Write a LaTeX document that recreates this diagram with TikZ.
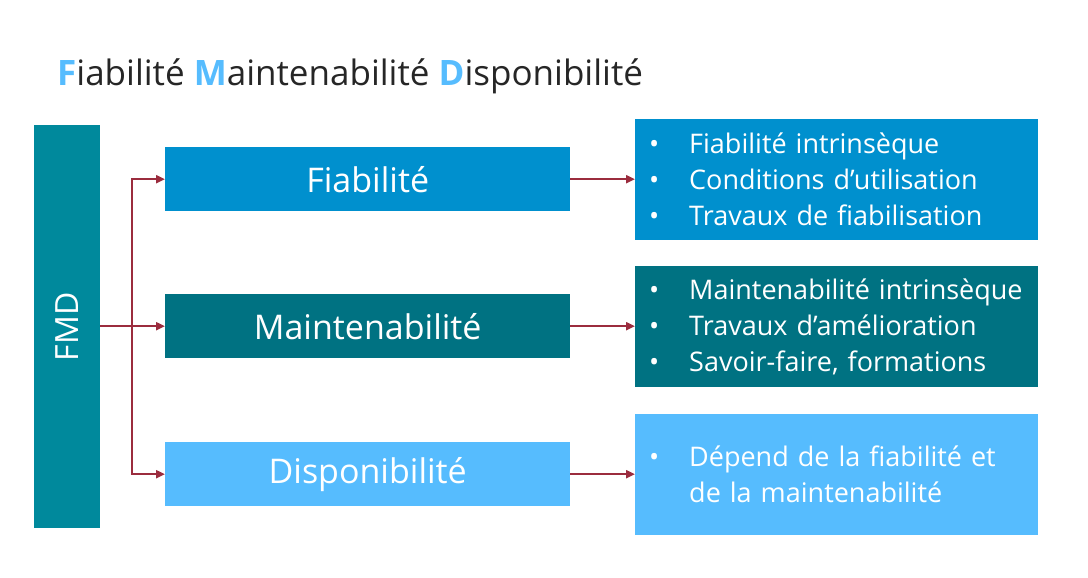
\documentclass[tikz,border=0pt]{standalone}
\usepackage{fontspec}
\setmainfont{Open Sans}
\usepackage{tikz}
\usetikzlibrary{arrows.meta,positioning,calc}

\definecolor{fmdteal}{HTML}{00899C}
\definecolor{fiabblue}{HTML}{0090CE}
\definecolor{mainteal}{HTML}{007282}
\definecolor{dispblue}{HTML}{56BCFE}
\definecolor{arrowred}{HTML}{9B2C3E}
\definecolor{titlegray}{HTML}{262626}

\newcommand{\bul}{\makebox[40pt][l]{\textbullet}}
\newcommand{\nobul}{\makebox[40pt][l]{}}
\newcommand{\initial}[1]{\textcolor{dispblue}{\textbf{#1}}}

\begin{document}
\begin{tikzpicture}[x=1pt,y=-1pt,
  box/.style={rectangle,anchor=north west,inner sep=0pt,minimum width=405pt,minimum height=64pt,
    text=white,font=\fontsize{34}{40}\selectfont},
  listbox/.style={rectangle,anchor=north west,inner ysep=0pt,inner xsep=14pt,minimum width=403pt,minimum height=121pt,
    text=white,font=\fontsize{27}{36}\selectfont,align=left,text width=375pt},
  conn/.style={draw=arrowred,line width=2pt,-{Triangle[length=9pt,width=8pt]}}]
  \useasboundingbox (0,0) rectangle (1088,578);
  % title
  \node[anchor=base west,inner sep=0pt,text=titlegray,font=\fontsize{35}{40}\selectfont] (title) at (57,85)
    {\initial{F}iabilité \initial{M}aintenabilité \initial{D}isponibilité};
  % left bar
  \node[rectangle,fill=fmdteal,anchor=north west,inner sep=0pt,minimum width=66pt,minimum height=403pt] (fmd) at (34,125) {};
  \node[rotate=90,text=white,font=\fontsize{32}{38}\selectfont] (fmdlab) at (fmd.center) {FMD};
  % middle boxes
  \node[box,fill=fiabblue] (fiab) at (165,147) {Fiabilité};
  \node[box,fill=mainteal] (maint) at (165,294) {Maintenabilité};
  \node[box,fill=dispblue] (disp) at (165,442) {Disponibilité};
  % right boxes
  \node[listbox,fill=fiabblue] (fiabl) at (635,119)
    {\bul Fiabilité intrinsèque\\ \bul Conditions d’utilisation\\ \bul Travaux de fiabilisation};
  \node[listbox,fill=mainteal] (maintl) at (635,266)
    {\bul Maintenabilité intrinsèque\\ \bul Travaux d’amélioration\\ \bul Savoir-faire, formations};
  \node[listbox,fill=dispblue] (displ) at (635,414)
    {\bul Dépend de la fiabilité et\\ \nobul de la maintenabilité};
  % connectors
  \coordinate (split) at (132,326);
  \draw[conn] (fmd.east |- maint.west) -- (maint.west);
  \draw[conn] (split) |- (fiab.west);
  \draw[conn] (split) |- (disp.west);
  \foreach \a/\b in {fiab/fiabl,maint/maintl,disp/displ}
    \draw[conn] (\a.east) -- (\a.east -| \b.west);
\end{tikzpicture}
\end{document}
